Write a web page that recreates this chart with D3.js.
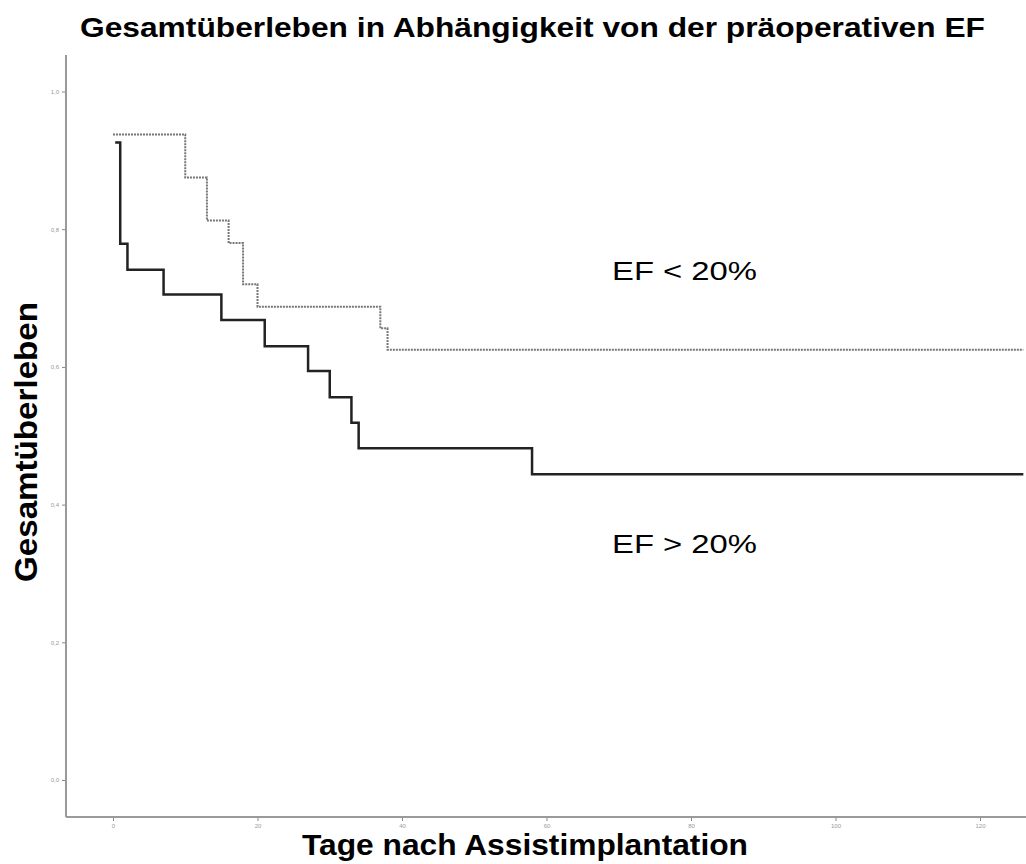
<!DOCTYPE html>
<html>
<head>
<meta charset="utf-8">
<script src="https://cdn.jsdelivr.net/npm/d3@7"></script>
<style>
  body { margin: 0; background: #fff; }
  svg { display: block; font-family: "Liberation Sans", Arial, sans-serif; }
</style>
</head>
<body>
<svg id="chart"></svg>
<script>
// Kaplan-Meier steps
var lowDays = [0, 10, 13, 16, 18, 20, 37, 38, 126]
var lowSurv = [0.9375, 0.875, 0.8125, 0.78, 0.72, 0.6875, 0.656, 0.625, 0.625]

var highDays = [0.3, 1, 2, 7, 15, 21, 27, 30, 33, 34, 58, 126]
var highSurv = [0.926, 0.779, 0.741, 0.705, 0.668, 0.630, 0.594, 0.556, 0.519, 0.482, 0.444, 0.444]

var xTicks = [0, 20, 40, 60, 80, 100, 120]
var yTicks = [0, 0.2, 0.4, 0.6, 0.8, 1.0]

var dimensions = {
  width: 1026,
  height: 864,
  margin: { top: 55, bottom: 47, right: 0, left: 66 }
}

var svg = d3.select("#chart")
  .attr("width", dimensions.width)
  .attr("height", dimensions.height)

var xScale = d3.scaleLinear()
  .domain([0, 120])
  .range([113, 980])

var yScale = d3.scaleLinear()
  .domain([0, 1])
  .range([780, 91.5])

var axisY = dimensions.height - dimensions.margin.bottom

// axes
var xAxisGen = d3.axisBottom(xScale)
  .tickValues(xTicks)
  .tickSize(4)
  .tickFormat(d3.format("d"))
var xAxis = svg.append("g")
  .attr("transform", `translate(0,${axisY})`)
  .call(xAxisGen)
xAxis.select(".domain").remove()
svg.append("line")
  .attr("x1", dimensions.margin.left).attr("x2", dimensions.width)
  .attr("y1", axisY).attr("y2", axisY)
  .attr("stroke", "#9a9a9a").attr("stroke-width", 2)

var yAxisGen = d3.axisLeft(yScale)
  .tickValues(yTicks)
  .tickSize(4)
  .tickFormat(d => d3.format(".1f")(d).replace(".", ","))
var yAxis = svg.append("g")
  .attr("transform", `translate(${dimensions.margin.left},0)`)
  .call(yAxisGen)
yAxis.select(".domain").remove()
svg.append("line")
  .attr("x1", dimensions.margin.left).attr("x2", dimensions.margin.left)
  .attr("y1", dimensions.margin.top).attr("y2", axisY)
  .attr("stroke", "#9a9a9a").attr("stroke-width", 2)

svg.selectAll(".tick line").attr("stroke", "#888")
svg.selectAll(".tick text")
  .attr("fill", "#999")
  .attr("font-size", 6)

// survival curves
var line = d3.line()
  .x(d => xScale(d[0]))
  .y(d => yScale(d[1]))
  .curve(d3.curveStepAfter)

svg.append("path")
  .datum(d3.zip(lowDays, lowSurv))
  .attr("d", line)
  .attr("fill", "none")
  .attr("stroke", "#777")
  .attr("stroke-width", 2)
  .attr("stroke-dasharray", "2,1")

svg.append("path")
  .datum(d3.zip(highDays, highSurv))
  .attr("d", line)
  .attr("fill", "none")
  .attr("stroke", "#222")
  .attr("stroke-width", 2.5)

// texts
svg.append("text")
  .attr("x", 80).attr("y", 37)
  .attr("font-size", 27)
  .attr("font-weight", "bold")
  .attr("textLength", 905)
  .attr("lengthAdjust", "spacingAndGlyphs")
  .text("Gesamtüberleben in Abhängigkeit von der präoperativen EF")

svg.append("text")
  .attr("transform", "translate(37,582) rotate(-90)")
  .attr("font-size", 31)
  .attr("font-weight", "bold")
  .attr("textLength", 280)
  .attr("lengthAdjust", "spacingAndGlyphs")
  .text("Gesamtüberleben")

svg.append("text")
  .attr("x", 302).attr("y", 855)
  .attr("font-size", 30)
  .attr("font-weight", "bold")
  .attr("textLength", 446)
  .attr("lengthAdjust", "spacingAndGlyphs")
  .text("Tage nach Assistimplantation")

svg.append("text")
  .attr("x", 612).attr("y", 280)
  .attr("font-size", 26)
  .attr("textLength", 145)
  .attr("lengthAdjust", "spacingAndGlyphs")
  .text("EF < 20%")

svg.append("text")
  .attr("x", 612).attr("y", 553)
  .attr("font-size", 26)
  .attr("textLength", 145)
  .attr("lengthAdjust", "spacingAndGlyphs")
  .text("EF > 20%")
</script>
</body>
</html>
